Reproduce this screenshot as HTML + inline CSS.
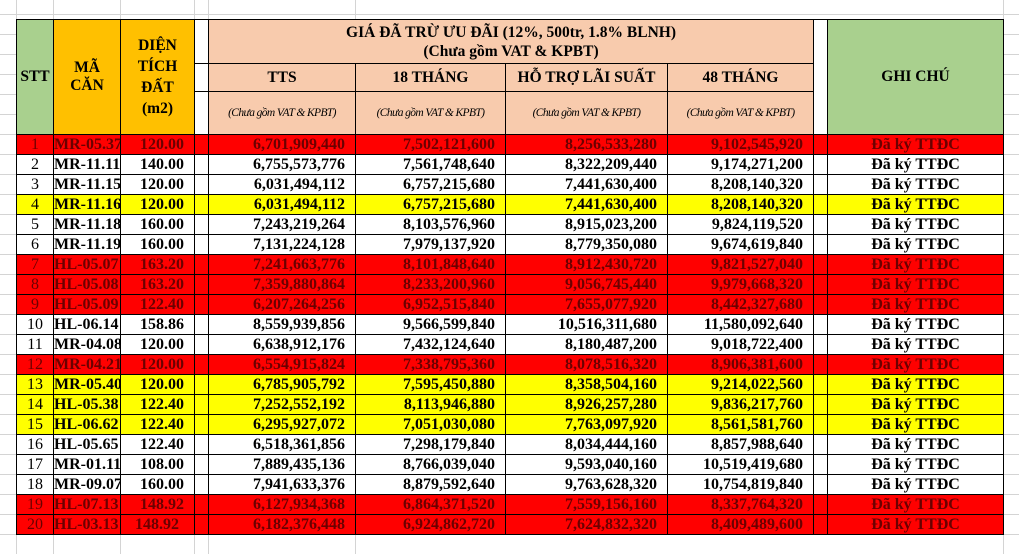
<!DOCTYPE html>
<html><head><meta charset="utf-8"><style>
body{margin:0;width:1019px;height:554px;overflow:hidden;background:#fff;
background-image:linear-gradient(#d4d4d4 1px,transparent 1px);background-size:100% 20px;background-position:0 14px;}
.g{position:absolute;top:0;bottom:0;width:1px;background:#d4d4d4}
table{position:absolute;left:16px;top:19px;width:987px;border-collapse:collapse;table-layout:fixed;font-family:"Liberation Serif","DejaVu Serif",serif;font-weight:bold;}
td{border:1px solid #000;padding:0;overflow:hidden;white-space:nowrap;font-size:16px;}
tr.d td{height:19px;line-height:19px}
tr.d td.n{text-align:right;padding-right:10px}
tr.d td.c{text-align:center}
tr.d td.s{text-align:center;font-weight:normal}
.r td{background:#ff0000;color:#6b0000}
.y td{background:#ffff00}
.h td{text-align:center;font-size:15.5px}
.h td.it{font-style:italic;font-weight:normal;font-size:11.5px;letter-spacing:-0.6px}
</style></head><body>
<div class="g" style="left:16px"></div><div class="g" style="left:53px"></div><div class="g" style="left:120px"></div><div class="g" style="left:194px"></div><div class="g" style="left:208px"></div><div class="g" style="left:355px"></div><div class="g" style="left:1003px"></div>
<table>
<colgroup><col style="width:37px"><col style="width:67px"><col style="width:74px"><col style="width:14px"><col style="width:147px"><col style="width:150px"><col style="width:162px"><col style="width:146px"><col style="width:14px"><col style="width:176px"></colgroup>
<tr class="h" style="height:44px"><td rowspan="3" style="background:#a9d08e">STT</td><td rowspan="3" style="background:#ffc000">MÃ<br>CĂN</td><td rowspan="3" style="background:#ffc000;line-height:21px">DIỆN<br>TÍCH<br>ĐẤT<br>(m2)</td><td style="background:#fff"></td><td colspan="4" style="background:#f8cbad;line-height:19px">GIÁ ĐÃ TRỪ ƯU ĐÃI (12%, 500tr, 1.8% BLNH)<br>(Chưa gồm VAT &amp; KPBT)</td><td rowspan="3" style="background:#fff"></td><td rowspan="3" style="background:#a9d08e">GHI CHÚ</td></tr>
<tr class="h" style="height:28px"><td style="background:#fff"></td><td style="background:#f8cbad">TTS</td><td style="background:#f8cbad">18 THÁNG</td><td style="background:#f8cbad">HỖ TRỢ LÃI SUẤT</td><td style="background:#f8cbad">48 THÁNG</td></tr>
<tr class="h" style="height:43px"><td style="background:#fff"></td><td style="background:#f8cbad" class="it">(Chưa gồm VAT &amp; KPBT)</td><td style="background:#f8cbad" class="it">(Chưa gồm VAT &amp; KPBT)</td><td style="background:#f8cbad" class="it">(Chưa gồm VAT &amp; KPBT)</td><td style="background:#f8cbad" class="it">(Chưa gồm VAT &amp; KPBT)</td></tr>
<tr class="d r"><td class="s">1</td><td>MR-05.37</td><td class="n">120.00</td><td></td><td class="n">6,701,909,440</td><td class="n">7,502,121,600</td><td class="n">8,256,533,280</td><td class="n">9,102,545,920</td><td></td><td class="c">Đã ký TTĐC</td></tr>
<tr class="d"><td class="s">2</td><td>MR-11.11</td><td class="n">140.00</td><td></td><td class="n">6,755,573,776</td><td class="n">7,561,748,640</td><td class="n">8,322,209,440</td><td class="n">9,174,271,200</td><td></td><td class="c">Đã ký TTĐC</td></tr>
<tr class="d"><td class="s">3</td><td>MR-11.15</td><td class="n">120.00</td><td></td><td class="n">6,031,494,112</td><td class="n">6,757,215,680</td><td class="n">7,441,630,400</td><td class="n">8,208,140,320</td><td></td><td class="c">Đã ký TTĐC</td></tr>
<tr class="d y"><td class="s">4</td><td>MR-11.16</td><td class="n">120.00</td><td></td><td class="n">6,031,494,112</td><td class="n">6,757,215,680</td><td class="n">7,441,630,400</td><td class="n">8,208,140,320</td><td></td><td class="c">Đã ký TTĐC</td></tr>
<tr class="d"><td class="s">5</td><td>MR-11.18</td><td class="n">160.00</td><td></td><td class="n">7,243,219,264</td><td class="n">8,103,576,960</td><td class="n">8,915,023,200</td><td class="n">9,824,119,520</td><td></td><td class="c">Đã ký TTĐC</td></tr>
<tr class="d"><td class="s">6</td><td>MR-11.19</td><td class="n">160.00</td><td></td><td class="n">7,131,224,128</td><td class="n">7,979,137,920</td><td class="n">8,779,350,080</td><td class="n">9,674,619,840</td><td></td><td class="c">Đã ký TTĐC</td></tr>
<tr class="d r"><td class="s">7</td><td>HL-05.07</td><td class="n">163.20</td><td></td><td class="n">7,241,663,776</td><td class="n">8,101,848,640</td><td class="n">8,912,430,720</td><td class="n">9,821,527,040</td><td></td><td class="c">Đã ký TTĐC</td></tr>
<tr class="d r"><td class="s">8</td><td>HL-05.08</td><td class="n">163.20</td><td></td><td class="n">7,359,880,864</td><td class="n">8,233,200,960</td><td class="n">9,056,745,440</td><td class="n">9,979,668,320</td><td></td><td class="c">Đã ký TTĐC</td></tr>
<tr class="d r"><td class="s">9</td><td>HL-05.09</td><td class="n">122.40</td><td></td><td class="n">6,207,264,256</td><td class="n">6,952,515,840</td><td class="n">7,655,077,920</td><td class="n">8,442,327,680</td><td></td><td class="c">Đã ký TTĐC</td></tr>
<tr class="d"><td class="s">10</td><td>HL-06.14</td><td class="n">158.86</td><td></td><td class="n">8,559,939,856</td><td class="n">9,566,599,840</td><td class="n">10,516,311,680</td><td class="n">11,580,092,640</td><td></td><td class="c">Đã ký TTĐC</td></tr>
<tr class="d"><td class="s">11</td><td>MR-04.08</td><td class="n">120.00</td><td></td><td class="n">6,638,912,176</td><td class="n">7,432,124,640</td><td class="n">8,180,487,200</td><td class="n">9,018,722,400</td><td></td><td class="c">Đã ký TTĐC</td></tr>
<tr class="d r"><td class="s">12</td><td>MR-04.21</td><td class="n">120.00</td><td></td><td class="n">6,554,915,824</td><td class="n">7,338,795,360</td><td class="n">8,078,516,320</td><td class="n">8,906,381,600</td><td></td><td class="c">Đã ký TTĐC</td></tr>
<tr class="d y"><td class="s">13</td><td>MR-05.40</td><td class="n">120.00</td><td></td><td class="n">6,785,905,792</td><td class="n">7,595,450,880</td><td class="n">8,358,504,160</td><td class="n">9,214,022,560</td><td></td><td class="c">Đã ký TTĐC</td></tr>
<tr class="d y"><td class="s">14</td><td>HL-05.38</td><td class="n">122.40</td><td></td><td class="n">7,252,552,192</td><td class="n">8,113,946,880</td><td class="n">8,926,257,280</td><td class="n">9,836,217,760</td><td></td><td class="c">Đã ký TTĐC</td></tr>
<tr class="d y"><td class="s">15</td><td>HL-06.62</td><td class="n">122.40</td><td></td><td class="n">6,295,927,072</td><td class="n">7,051,030,080</td><td class="n">7,763,097,920</td><td class="n">8,561,581,760</td><td></td><td class="c">Đã ký TTĐC</td></tr>
<tr class="d"><td class="s">16</td><td>HL-05.65</td><td class="n">122.40</td><td></td><td class="n">6,518,361,856</td><td class="n">7,298,179,840</td><td class="n">8,034,444,160</td><td class="n">8,857,988,640</td><td></td><td class="c">Đã ký TTĐC</td></tr>
<tr class="d"><td class="s">17</td><td>MR-01.11</td><td class="n">108.00</td><td></td><td class="n">7,889,435,136</td><td class="n">8,766,039,040</td><td class="n">9,593,040,160</td><td class="n">10,519,419,680</td><td></td><td class="c">Đã ký TTĐC</td></tr>
<tr class="d"><td class="s">18</td><td>MR-09.07</td><td class="n">160.00</td><td></td><td class="n">7,941,633,376</td><td class="n">8,879,592,640</td><td class="n">9,763,628,320</td><td class="n">10,754,819,840</td><td></td><td class="c">Đã ký TTĐC</td></tr>
<tr class="d r"><td class="s">19</td><td>HL-07.13</td><td class="n">148.92</td><td></td><td class="n">6,127,934,368</td><td class="n">6,864,371,520</td><td class="n">7,559,156,160</td><td class="n">8,337,764,320</td><td></td><td class="c">Đã ký TTĐC</td></tr>
<tr class="d r"><td class="s">20</td><td>HL-03.13</td><td class="n" style="text-align:left;padding-left:14px">148.92</td><td></td><td class="n">6,182,376,448</td><td class="n">6,924,862,720</td><td class="n">7,624,832,320</td><td class="n">8,409,489,600</td><td></td><td class="c">Đã ký TTĐC</td></tr>
</table>
</body></html>
